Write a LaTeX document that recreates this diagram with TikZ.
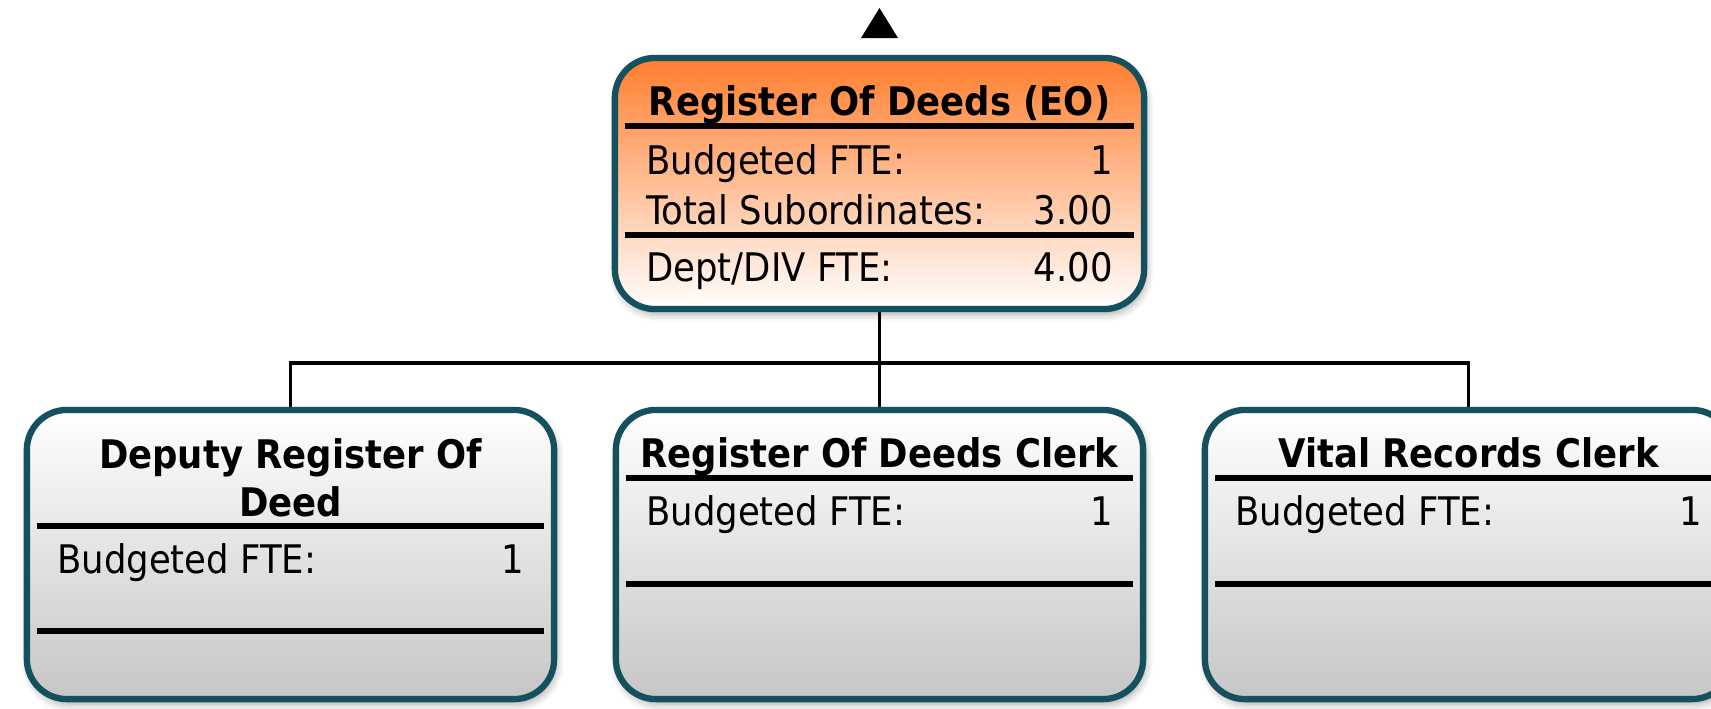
\documentclass[tikz,border=0pt]{standalone}
\usepackage{fontspec}
\setmainfont{DejaVu Sans Condensed}
\usetikzlibrary{calc,backgrounds,shadows.blur}

\definecolor{boxborder}{HTML}{14505E}
\definecolor{headorange}{HTML}{FF7E2E}
\definecolor{boxgray}{HTML}{C6C6C6}

\tikzset{
  posbox/.style={draw=boxborder, line width=1.8pt, rounded corners=0.4cm, inner sep=0pt,
    minimum width=5.27cm, minimum height=2.89cm,
    blur shadow={shadow xshift=0.6pt, shadow yshift=-1.4pt, shadow blur steps=6, shadow opacity=35}},
  headbox/.style={posbox, top color=headorange, bottom color=white,
    minimum width=5.29cm, minimum height=2.51cm},
  staffbox/.style={posbox, top color=white, bottom color=boxgray},
  divider/.style={line width=1.7pt},
  link/.style={line width=1pt},
  titletext/.style={font=\bfseries\fontsize{11.2}{13.7}\selectfont, inner sep=0pt, align=center},
  fieldtext/.style={font=\fontsize{11.2}{13.7}\selectfont, inner sep=0pt},
}

\begin{document}
\begin{tikzpicture}[x=0.01cm, y=-0.01cm]
    \useasboundingbox (0, 0) rectangle (1711, 709);

    % Marker for the level above
    \fill (861, 38) -- (879.5, 8) -- (898, 38) -- cycle;

    % Position boxes
    \node[headbox] (rod) at (879.5, 183.5) {};
    \node[staffbox] (deputy) at (290.5, 554.5) {};
    \node[staffbox] (clerk) at (879.5, 554.5) {};
    \node[staffbox] (vital) at (1468.5, 554.5) {};

    % Reporting lines
    \coordinate (bus) at (879.5, 363);
    \begin{scope}[on background layer]
        \draw[link] (rod.south) -- (clerk.north);
        \draw[link] (deputy.north) -- (deputy.north |- bus) -- (vital.north |- bus) -- (vital.north);
    \end{scope}

    % Register Of Deeds (EO)
    \node[titletext, anchor=base] (rodtitle) at ($(rod.north)+(0, 61)$) {Register Of Deeds (EO)};
    \draw[divider] ($(rod.north west)+(13, 71)$) -- ($(rod.north east)+(-13, 71)$);
    \node[fieldtext, anchor=base west] (rodfte) at ($(rod.north west)+(34, 120)$) {Budgeted FTE:};
    \node[fieldtext, anchor=base east] (rodfteval) at ($(rod.north east)+(-34, 120)$) {1};
    \node[fieldtext, anchor=base west] (rodsub) at ($(rod.north west)+(34, 170)$) {Total Subordinates:};
    \node[fieldtext, anchor=base east] (rodsubval) at ($(rod.north east)+(-34, 170)$) {3.00};
    \draw[divider] ($(rod.north west)+(13, 180)$) -- ($(rod.north east)+(-13, 180)$);
    \node[fieldtext, anchor=base west] (roddept) at ($(rod.north west)+(34, 227)$) {Dept/DIV FTE:};
    \node[fieldtext, anchor=base east] (roddeptval) at ($(rod.north east)+(-34, 227)$) {4.00};

    % Deputy Register Of Deed (base sits on the last line)
    \node[titletext, anchor=base] (deputytitle) at ($(deputy.north)+(0, 110)$) {Deputy Register Of\\Deed};
    \draw[divider] ($(deputy.north west)+(13, 119)$) -- ($(deputy.north east)+(-13, 119)$);
    \node[fieldtext, anchor=base west] (deputyfte) at ($(deputy.north west)+(33, 167)$) {Budgeted FTE:};
    \node[fieldtext, anchor=base east] (deputyfteval) at ($(deputy.north east)+(-33, 167)$) {1};
    \draw[divider] ($(deputy.north west)+(13, 224)$) -- ($(deputy.north east)+(-13, 224)$);

    % Register Of Deeds Clerk
    \node[titletext, anchor=base] (clerktitle) at ($(clerk.north)+(0, 61)$) {Register Of Deeds Clerk};
    \draw[divider] ($(clerk.north west)+(13, 71)$) -- ($(clerk.north east)+(-13, 71)$);
    \node[fieldtext, anchor=base west] (clerkfte) at ($(clerk.north west)+(33, 119)$) {Budgeted FTE:};
    \node[fieldtext, anchor=base east] (clerkfteval) at ($(clerk.north east)+(-33, 119)$) {1};
    \draw[divider] ($(clerk.north west)+(13, 177)$) -- ($(clerk.north east)+(-13, 177)$);

    % Vital Records Clerk
    \node[titletext, anchor=base] (vitaltitle) at ($(vital.north)+(0, 61)$) {Vital Records Clerk};
    \draw[divider] ($(vital.north west)+(13, 71)$) -- ($(vital.north east)+(-13, 71)$);
    \node[fieldtext, anchor=base west] (vitalfte) at ($(vital.north west)+(33, 119)$) {Budgeted FTE:};
    \node[fieldtext, anchor=base east] (vitalfteval) at ($(vital.north east)+(-33, 119)$) {1};
    \draw[divider] ($(vital.north west)+(13, 177)$) -- ($(vital.north east)+(-13, 177)$);
\end{tikzpicture}
\end{document}
